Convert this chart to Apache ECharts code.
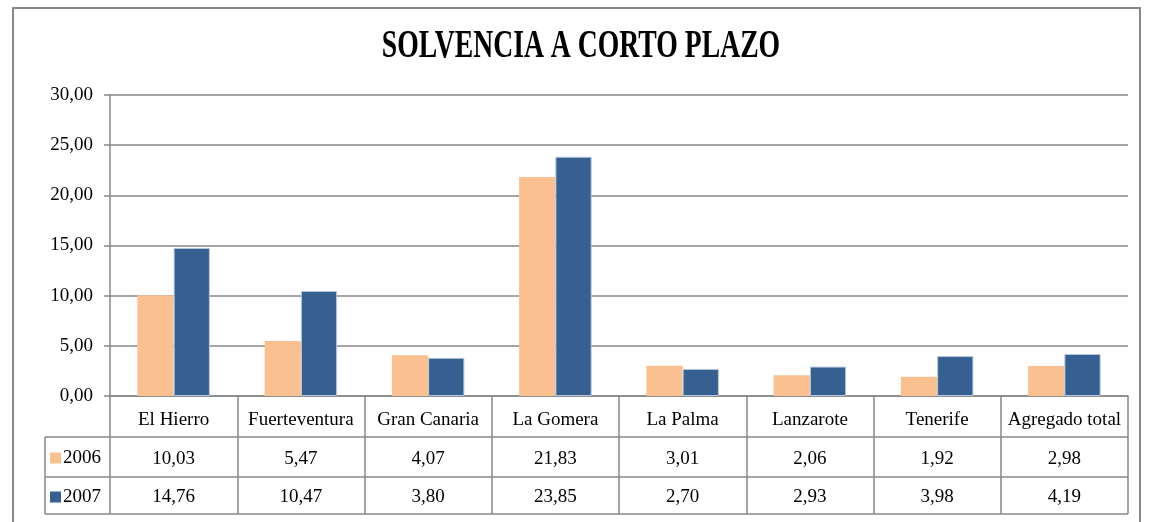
<!DOCTYPE html>
<html>
<head>
<meta charset="utf-8">
<script src="https://cdn.jsdelivr.net/npm/echarts@6/dist/echarts.min.js"></script>
<style>
  html, body { margin: 0; padding: 0; background: #fff; }
  #chart { width: 1150px; height: 522px; }
</style>
</head>
<body>
<div id="chart"></div>
<script>
const categories = ['El Hierro', 'Fuerteventura', 'Gran Canaria', 'La Gomera', 'La Palma', 'Lanzarote', 'Tenerife', 'Agregado total'];
const years = ['2006', '2007'];
const values2006 = [10.03, 5.47, 4.07, 21.83, 3.01, 2.06, 1.92, 2.98];
const values2007 = [14.76, 10.47, 3.80, 23.85, 2.70, 2.93, 3.98, 4.19];

const FONT = 'Liberation Serif';
const LINE = '#888888';
const fmt = v => v.toFixed(2).replace('.', ',');

// plot / table layout
const gridLeft = 110, gridRight = 1128, gridTop = 95, gridBottom = 396;
const rowLines = [437, 477, 514];
const tableLeft = 45;

const chart = echarts.init(document.getElementById('chart'));

const tableLines = rowLines.map(y => ({
  type: 'line',
  shape: { x1: tableLeft, y1: y, x2: gridRight, y2: y },
  style: { stroke: LINE, lineWidth: 1.5 }
}));
tableLines.push({
  type: 'line',
  shape: { x1: tableLeft, y1: rowLines[0], x2: tableLeft, y2: rowLines[2] },
  style: { stroke: LINE, lineWidth: 1.5 }
});

const option = {
  animation: false,
  textStyle: { fontFamily: FONT },
  grid: { left: gridLeft, right: 1150 - gridRight, top: gridTop, bottom: 522 - gridBottom },
  legend: {
    data: years,
    orient: 'vertical',
    left: 50,
    top: 448,
    padding: 0,
    icon: 'rect',
    itemWidth: 11,
    itemHeight: 11,
    itemGap: 19,
    selectedMode: false,
    itemStyle: { borderWidth: 0 },
    textStyle: { fontFamily: FONT, fontSize: 19, color: '#000', lineHeight: 20, padding: [0, 0, 0, -3] }
  },
  xAxis: {
    type: 'category',
    data: categories,
    axisLine: { lineStyle: { color: LINE, width: 1.5 } },
    axisTick: { show: true, interval: 0, length: rowLines[2] - gridBottom, lineStyle: { color: LINE, width: 1.5 } },
    axisLabel: {
      interval: 0,
      margin: 4,
      color: '#000',
      formatter: (v, i) => `{c|${v}}\n{n|${fmt(values2006[i])}}\n{n|${fmt(values2007[i])}}`,
      rich: {
        c: { fontFamily: FONT, fontSize: 19, lineHeight: 40, color: '#000' },
        n: { fontFamily: FONT, fontSize: 19, lineHeight: 38, color: '#000' }
      }
    }
  },
  yAxis: {
    type: 'value',
    min: 0,
    max: 30,
    interval: 5,
    axisLine: { show: true, lineStyle: { color: LINE, width: 1.5 } },
    axisTick: { show: true, length: 6, lineStyle: { color: LINE, width: 1.5 } },
    axisLabel: { formatter: fmt, margin: 17, color: '#000', fontFamily: FONT, fontSize: 19 },
    splitLine: { lineStyle: { color: LINE, width: 1.5 } }
  },
  series: [
    {
      name: years[0],
      type: 'bar',
      data: values2006,
      barGap: '0%',
      barCategoryGap: '43%',
      itemStyle: { color: '#FAC090' }
    },
    {
      name: years[1],
      type: 'bar',
      data: values2007,
      itemStyle: { color: '#376092', borderColor: '#b8c8de', borderWidth: 1 }
    }
  ],
  graphic: [
    {
      type: 'rect',
      shape: { x: 13, y: 8, width: 1127, height: 540 },
      style: { fill: 'none', stroke: LINE, lineWidth: 2 }
    },
    {
      type: 'text',
      x: 581,
      y: 46,
      scaleX: 0.71,
      scaleY: 1.05,
      style: {
        text: 'SOLVENCIA A CORTO PLAZO',
        fontFamily: FONT,
        fontWeight: 'bold',
        fontSize: 39,
        fill: '#000',
        align: 'center',
        verticalAlign: 'middle'
      }
    }
  ].concat(tableLines)
};

chart.setOption(option);
</script>
</body>
</html>
